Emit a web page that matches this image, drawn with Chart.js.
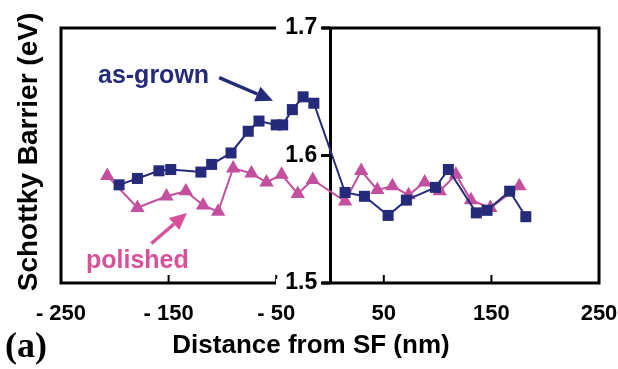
<!DOCTYPE html>
<html>
<head>
<meta charset="utf-8">
<script src="https://cdn.jsdelivr.net/npm/chart.js@4/dist/chart.umd.min.js"></script>
<style>
  html, body { margin: 0; padding: 0; background: #fff; }
</style>
</head>
<body>
<canvas id="chart" width="618" height="369"></canvas>
<script>
// as-grown sample (squares)
const asGrownX = [-196, -179, -159, -148, -120, -110, -92, -76, -66, -50, -44, -35, -25, -15,
                  14, 32, 54, 71, 98, 110, 136, 146, 167, 182];
const asGrownY = [1.577, 1.582, 1.588, 1.589, 1.587, 1.593, 1.602, 1.619, 1.627, 1.624, 1.624, 1.636, 1.646, 1.641,
                  1.571, 1.568, 1.553, 1.565, 1.575, 1.589, 1.555, 1.557, 1.572, 1.552];

// polished sample (triangles)
const polishedX = [-207, -179, -152, -134, -118, -104, -90, -73, -59, -45, -30, -16,
                   14, 29, 44, 58, 73, 88, 102, 117, 131, 149, 176];
const polishedY = [1.584, 1.559, 1.568, 1.572, 1.561, 1.556, 1.590, 1.586, 1.579, 1.585, 1.570, 1.581,
                   1.564, 1.588, 1.573, 1.576, 1.569, 1.579, 1.572, 1.585, 1.565, 1.559, 1.576];

const xTicks = [-250, -150, -50, 50, 150, 250];
const yTicks = [1.5, 1.6, 1.7];

const NAVY = '#262a7a';
const MAGENTA = '#c2509e';
const PINK = '#d9509a';

function toPoints(xs, ys) {
    return xs.map((x, i) => ({ x: x, y: ys[i] }));
}

// arrow helper, end point gets the head
function arrow(ctx, x1, y1, x2, y2, color) {
    const ang = Math.atan2(y2 - y1, x2 - x1);
    const head = 17, half = 8;
    const bx = x2 - head * Math.cos(ang), by = y2 - head * Math.sin(ang);
    ctx.strokeStyle = color;
    ctx.fillStyle = color;
    ctx.lineWidth = 3.5;
    ctx.beginPath();
    ctx.moveTo(x1, y1);
    ctx.lineTo(bx, by);
    ctx.stroke();
    ctx.beginPath();
    ctx.moveTo(x2, y2);
    ctx.lineTo(bx + half * Math.sin(ang), by - half * Math.cos(ang));
    ctx.lineTo(bx - half * Math.sin(ang), by + half * Math.cos(ang));
    ctx.closePath();
    ctx.fill();
}

const framePlugin = {
    id: 'frame',
    beforeDraw(chart) {
        const { ctx, chartArea: a, scales: { x, y } } = chart;
        ctx.save();
        ctx.strokeStyle = '#000';
        ctx.lineWidth = 3;
        ctx.strokeRect(a.left, a.top, a.right - a.left, a.bottom - a.top);
        // small inner ticks on the bottom edge
        ctx.lineWidth = 2;
        xTicks.slice(1, -1).forEach(v => {
            const px = x.getPixelForValue(v);
            ctx.beginPath();
            ctx.moveTo(px, a.bottom);
            ctx.lineTo(px, a.bottom - 8);
            ctx.stroke();
        });
        // the 1.7 and 1.5 labels sit on the frame: break it there
        const x0 = x.getPixelForValue(0);
        ctx.fillStyle = '#fff';
        [yTicks[0], yTicks[yTicks.length - 1]].forEach(v => {
            const py = y.getPixelForValue(v);
            ctx.fillRect(x0 - 54, py - 4, 46, 8);
        });
        ctx.restore();
    },
    afterDraw(chart) {
        const { ctx, scales: { x, y } } = chart;
        ctx.save();
        // y ticks, pointing left from the axis at x = 0
        const x0 = x.getPixelForValue(0);
        ctx.strokeStyle = '#000';
        ctx.lineWidth = 3;
        yTicks.forEach(v => {
            const py = y.getPixelForValue(v);
            ctx.beginPath();
            ctx.moveTo(x0, py);
            ctx.lineTo(x0 - 9, py);
            ctx.stroke();
        });

        // annotations
        ctx.font = 'bold 25px "Liberation Sans", Arial, sans-serif';
        ctx.textAlign = 'center';
        ctx.textBaseline = 'alphabetic';
        ctx.fillStyle = NAVY;
        ctx.fillText('as-grown', x.getPixelForValue(-164), y.getPixelForValue(1.657));
        ctx.fillStyle = PINK;
        ctx.fillText('polished', x.getPixelForValue(-179), y.getPixelForValue(1.512));
        arrow(ctx, x.getPixelForValue(-103), y.getPixelForValue(1.661),
              x.getPixelForValue(-53), y.getPixelForValue(1.643), NAVY);
        arrow(ctx, x.getPixelForValue(-166), y.getPixelForValue(1.531),
              x.getPixelForValue(-133), y.getPixelForValue(1.555), PINK);

        // axis titles
        ctx.fillStyle = '#000';
        ctx.font = 'bold 26px "Liberation Sans", Arial, sans-serif';
        ctx.fillText('Distance from SF (nm)', 311, 353);
        ctx.save();
        ctx.translate(37, 152);
        ctx.rotate(-Math.PI / 2);
        ctx.font = 'bold 28px "Liberation Sans", Arial, sans-serif';
        ctx.fillText('Schottky Barrier (eV)', 0, 0);
        ctx.restore();

        ctx.textAlign = 'left';
        ctx.font = 'bold 36px "Liberation Serif", "Times New Roman", serif';
        ctx.fillText('(a)', 5, 357);
        ctx.restore();
    }
};

new Chart(document.getElementById('chart'), {
    type: 'scatter',
    data: {
        datasets: [
            {
                label: 'as-grown',
                data: toPoints(asGrownX, asGrownY),
                showLine: true,
                borderColor: NAVY,
                backgroundColor: NAVY,
                borderWidth: 2,
                pointStyle: 'rect',
                pointRadius: 7.8,
                pointBorderWidth: 0,
                tension: 0,
            },
            {
                label: 'polished',
                data: toPoints(polishedX, polishedY),
                showLine: true,
                borderColor: MAGENTA,
                backgroundColor: MAGENTA,
                borderWidth: 2,
                pointStyle: 'triangle',
                pointRadius: 8.3,
                pointBorderWidth: 0,
                tension: 0,
            },
        ],
    },
    options: {
        responsive: false,
        animation: false,
        layout: { padding: { left: 61, top: 28, right: 19, bottom: 0 } },
        plugins: {
            legend: { display: false },
            tooltip: { enabled: false },
        },
        scales: {
            x: {
                type: 'linear',
                position: 'bottom',
                min: -250,
                max: 250,
                afterBuildTicks: (s) => { s.ticks = xTicks.map(v => ({ value: v })); },
                afterFit: (s) => { s.height = 86; s.paddingLeft = 0; s.paddingRight = 0; },
                grid: { display: false },
                border: { display: false },
                ticks: {
                    color: '#000',
                    padding: 10,
                    maxRotation: 0,
                    font: { family: '"Liberation Sans", Arial, sans-serif', size: 22, weight: 'bold' },
                    callback: (v) => (v < 0 ? '- ' + Math.abs(v) : String(v)),
                },
            },
            y: {
                type: 'linear',
                position: { x: 0 },
                min: 1.5,
                max: 1.7,
                afterBuildTicks: (s) => { s.ticks = yTicks.map(v => ({ value: v })); },
                afterFit: (s) => { s.paddingTop = 0; s.paddingBottom = 0; },
                grid: { display: false },
                border: { display: true, color: '#000', width: 3 },
                ticks: {
                    color: '#000',
                    font: { family: '"Liberation Sans", Arial, sans-serif', size: 23, weight: 'bold' },
                    // labels are right-aligned on the axis itself, trailing spaces keep them clear of the tick
                    callback: (v) => v.toFixed(1) + '  ',
                },
            },
        },
    },
    plugins: [framePlugin],
});
</script>
</body>
</html>
